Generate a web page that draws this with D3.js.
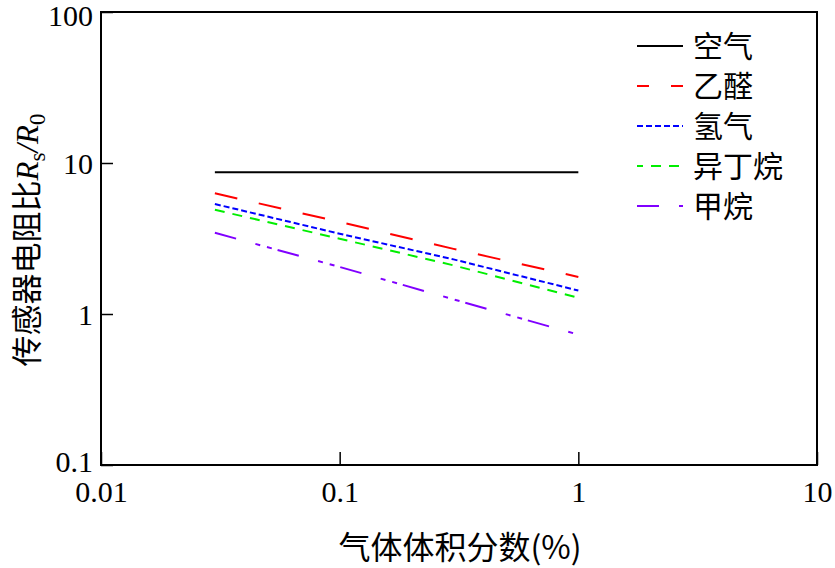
<!DOCTYPE html>
<html><head><meta charset="utf-8">
<script src="https://cdn.jsdelivr.net/npm/d3@7/dist/d3.min.js"></script>
<style>body{margin:0;background:#fff}svg{display:block}</style>
</head><body>
<svg id="c" width="835" height="568"></svg>
<script>
const xTicks = [0.01, 0.1, 1, 10];
const xTickLabels = ["0.01", "0.1", "1", "10"];
const yTicks = [0.1, 1, 10, 100];
const yTickLabels = ["0.1", "1", "10", "100"];
const concentrations = [0.03, 0.1, 0.3, 1];
const seriesNames = ["空气", "乙醛", "氢气", "异丁烷", "甲烷"];
const airValues = [8.7, 8.7, 8.7, 8.7];
const acetaldehydeValues = [6.3, 4.07, 2.7, 1.76];
const hydrogenValues = [5.35, 3.4, 2.3, 1.43];
const isobutaneValues = [4.9, 3.15, 2.1, 1.28];
const methaneValues = [3.45, 2.05, 1.25, 0.73];
const seriesValues = [airValues, acetaldehydeValues, hydrogenValues, isobutaneValues, methaneValues];
const colors = ["#000000", "#ff0000", "#0000ff", "#00ee00", "#8000ff"];
const dashes = [null, "23,22", "6,3", "10,8", "22,20,5,7,5,6"];
const legendOffsets = [0, 11, 0, 4, 0];

const svg = d3.select("#c");
const L = 101, R = 817, T = 12, B = 465;
const x = d3.scaleLog().domain([0.01, 10]).range([L, R]);
const y = d3.scaleLog().domain([0.1, 100]).range([B, T]);
const serif = "'Liberation Serif','Times New Roman',serif";
const cjk = "'Noto Sans CJK SC','Liberation Serif',serif";

// axes
const xa = svg.append("g").attr("transform", `translate(0,${B})`)
  .call(d3.axisBottom(x).tickValues(xTicks).tickSize(-13).tickPadding(23).tickFormat((d,i)=>xTickLabels[i]));
const ya = svg.append("g").attr("transform", `translate(${L},0)`)
  .call(d3.axisLeft(y).tickValues(yTicks).tickSize(-12).tickPadding(8).tickFormat((d,i)=>yTickLabels[i]));
[xa, ya].forEach(a => {
  a.select(".domain").remove();
  a.selectAll(".tick line").attr("stroke", "#000").attr("stroke-width", 1.5);
  a.selectAll(".tick text").attr("font-family", serif).attr("font-size", 30).attr("fill", "#000");
});
xa.selectAll(".tick text").attr("dy", "0.45em");
ya.selectAll(".tick text").attr("dy", "0.35em");
ya.selectAll(".tick text").filter((d) => d === 100).attr("dy", "0.45em");
ya.selectAll(".tick text").filter((d) => d === 0.1).attr("dy", "0.22em");

svg.append("rect").attr("x", L).attr("y", T).attr("width", R - L).attr("height", B - T)
  .attr("fill", "none").attr("stroke", "#000").attr("stroke-width", 2);

// lines
const line = d3.line().x((d,i) => x(concentrations[i])).y(d => y(d));
seriesValues.forEach((vals, k) => {
  svg.append("path").attr("d", line(vals)).attr("fill", "none")
    .attr("stroke", colors[k]).attr("stroke-width", 2)
    .attr("stroke-dasharray", dashes[k]);
});

// legend
const lx0 = 637, lx1 = 683, ly0 = 46, lstep = 40;
seriesNames.forEach((n, k) => {
  const yy = ly0 + k * lstep;
  svg.append("line").attr("x1", lx0).attr("x2", lx1).attr("y1", yy).attr("y2", yy)
    .attr("stroke", colors[k]).attr("stroke-width", 2)
    .attr("stroke-dasharray", dashes[k]).attr("stroke-dashoffset", legendOffsets[k]);
  svg.append("text").attr("x", 693).attr("y", yy).attr("dy", "0.36em")
    .attr("font-family", cjk).attr("font-size", 30).attr("fill", "#000").text(n);
});

// axis titles
svg.append("text").attr("x", 460).attr("y", 559).attr("text-anchor", "middle")
  .attr("font-family", cjk).attr("font-size", 32).attr("fill", "#000").text("气体体积分数(%)");

const yt = svg.append("text").attr("transform", "translate(38,240) rotate(-90)")
  .attr("text-anchor", "middle").attr("font-family", cjk).attr("font-size", 31).attr("fill", "#000");
yt.append("tspan").text("传感器电阻比");
yt.append("tspan").attr("font-family", serif).attr("font-style", "italic").text("R");
yt.append("tspan").attr("font-family", serif).attr("font-size", 23).attr("dy", 7).text("s");
yt.append("tspan").attr("font-family", serif).attr("font-style", "italic").attr("dy", -7).text("/R");
yt.append("tspan").attr("font-family", serif).attr("font-size", 23).attr("dy", 7).text("0");
</script>
</body></html>
